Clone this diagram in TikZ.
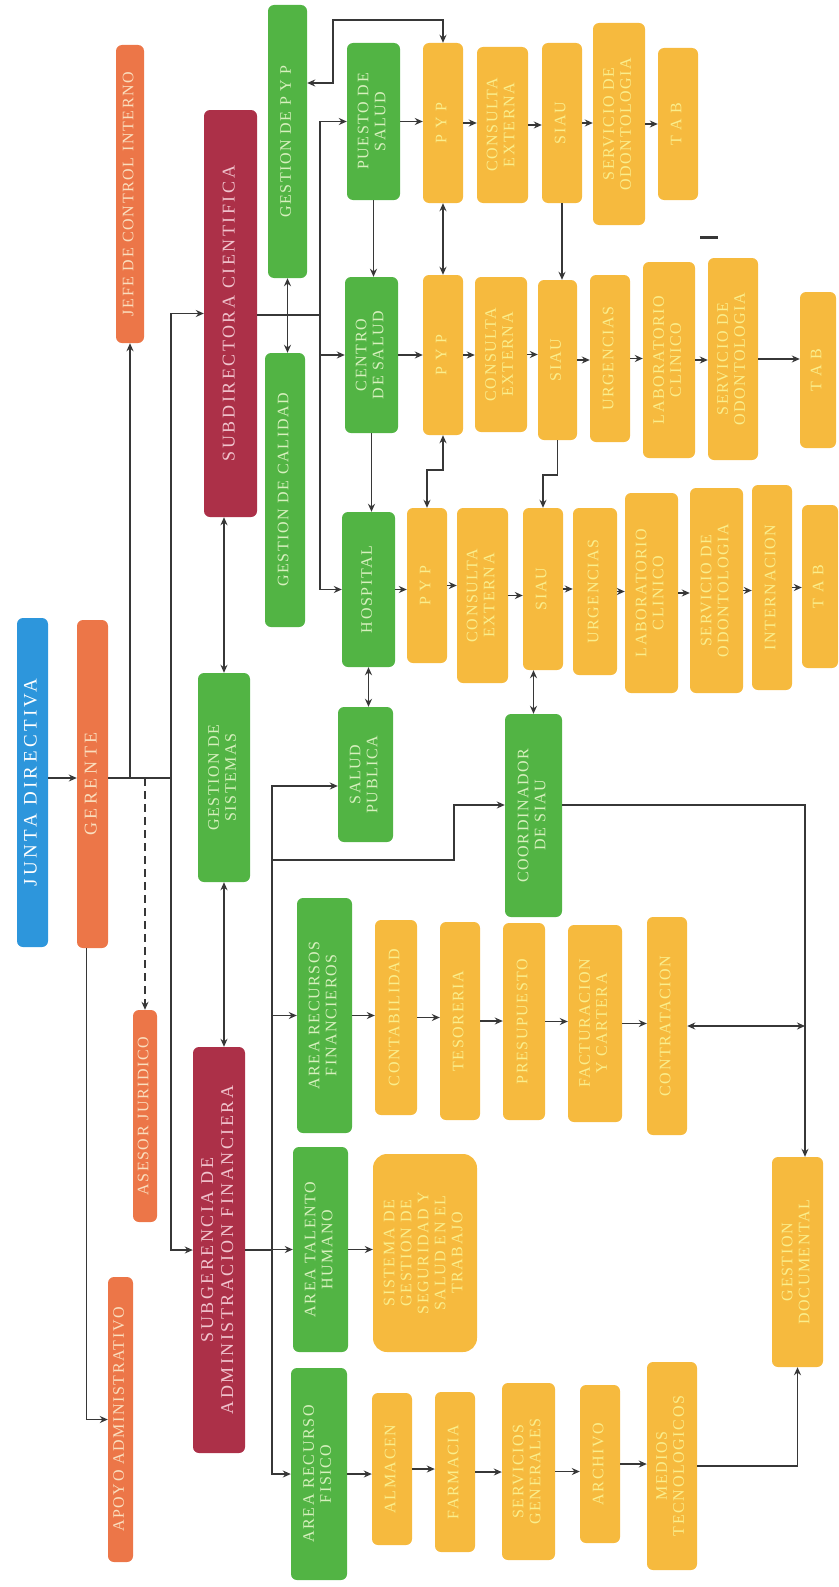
\documentclass[tikz,border=0pt]{standalone}
\usepackage{fontspec}
\setmainfont{Liberation Serif}[LetterSpace=10]
\usepackage{graphicx}
\usetikzlibrary{arrows.meta}

\definecolor{bluefill}{RGB}{45,150,220}
\definecolor{orangefill}{RGB}{236,118,72}
\definecolor{orangetext}{RGB}{250,222,190}
\definecolor{redfill}{RGB}{172,48,72}
\definecolor{redtext}{RGB}{240,195,205}
\definecolor{greenfill}{RGB}{82,180,68}
\definecolor{greentext}{RGB}{215,240,190}
\definecolor{goldfill}{RGB}{246,186,62}
\definecolor{goldtext}{RGB}{250,238,140}
\definecolor{linegray}{RGB}{55,55,55}

\newcommand{\vtxt}[1]{\rotatebox{90}{\begin{tabular}{@{}c@{}}#1\end{tabular}}}

\begin{document}
\begin{tikzpicture}[x=1pt, y=-1pt, >={Stealth[length=8pt,width=7pt]},
  every node/.style={rounded corners=6pt, inner sep=0pt, font=\fontsize{16}{17}\selectfont},
  wh/.style 2 args={minimum width=#1pt, minimum height=#2pt},
  bluebox/.style={fill=bluefill, text=white, font=\fontsize{19}{21}\selectfont\addfontfeature{LetterSpace=18}},
  orangebox/.style={fill=orangefill, text=orangetext},
  redbox/.style={fill=redfill, text=redtext, font=\fontsize{18}{20}\selectfont\addfontfeature{LetterSpace=14}},
  greenbox/.style={fill=greenfill, text=greentext},
  goldbox/.style={fill=goldfill, text=goldtext},
  conn/.style={draw=linegray, line width=1.5pt}]
\useasboundingbox (0,0) rectangle (838,1587);

% direccion
\node[bluebox, wh={31}{329}] (junta) at (32.5,782.5) {\vtxt{JUNTA DIRECTIVA}};
\node[orangebox, wh={31}{328}, font=\fontsize{18}{20}\selectfont\addfontfeature{LetterSpace=20}] (gerente) at (92.5,784) {\vtxt{GERENTE}};
\node[orangebox, wh={28}{298}] (jefe) at (130,194) {\vtxt{JEFE DE CONTROL INTERNO}};
\node[orangebox, wh={24}{212}] (asesor) at (145,1116) {\vtxt{ASESOR JURIDICO}};
\node[orangebox, wh={25}{285}] (apoyo) at (120.5,1419.5) {\vtxt{APOYO ADMINISTRATIVO}};
\node[redbox, wh={53}{407}] (subdir) at (230.5,313.5) {\vtxt{SUBDIRECTORA CIENTIFICA}};
\node[redbox, wh={52}{406}] (subger) at (219,1250) {\vtxt{SUBGERENCIA DE\\ADMINISTRACION FINANCIERA}};

\node[greenbox, wh={52}{209}] (gsist) at (224,777.5) {\vtxt{GESTION DE\\SISTEMAS}};
\node[greenbox, wh={39}{273}] (gpyp) at (287.5,141.5) {\vtxt{GESTION DE P Y P}};
\node[greenbox, wh={40}{274}] (gcal) at (285,490) {\vtxt{GESTION DE CALIDAD}};
\node[greenbox, wh={53}{157}] (puesto) at (373.5,121.5) {\vtxt{PUESTO DE\\SALUD}};
\node[greenbox, wh={53}{156}] (centro) at (371.5,355) {\vtxt{CENTRO\\DE SALUD}};
\node[greenbox, wh={53}{155}] (hospital) at (368.5,589.5) {\vtxt{HOSPITAL}};
\node[greenbox, wh={55}{135}] (salud) at (365.5,774.5) {\vtxt{SALUD\\PUBLICA}};
\node[greenbox, wh={57}{203}] (coord) at (533.5,815.5) {\vtxt{COORDINADOR\\DE SIAU}};
\node[greenbox, wh={55}{235}] (arf) at (324.5,1015.5) {\vtxt{AREA RECURSOS\\FINANCIEROS}};
\node[greenbox, wh={55}{205}] (ath) at (320.5,1249.5) {\vtxt{AREA TALENTO\\HUMANO}};
\node[greenbox, wh={56}{212}] (arfis) at (319,1474) {\vtxt{AREA RECURSO\\FISICO}};

% puesto de salud
\node[goldbox, wh={40}{160}] (pypA) at (443,123) {\vtxt{P Y P}};
\node[goldbox, wh={51}{156}] (consA) at (502.5,125) {\vtxt{CONSULTA\\EXTERNA}};
\node[goldbox, wh={40}{160}] (siauA) at (562,123) {\vtxt{SIAU}};
\node[goldbox, wh={52}{202}] (odoA) at (619,124) {\vtxt{SERVICIO DE\\ODONTOLOGIA}};
\node[goldbox, wh={40}{152}] (tabA) at (678,124) {\vtxt{T A B}};

% centro de salud
\node[goldbox, wh={40}{160}] (pypB) at (443,355) {\vtxt{P Y P}};
\node[goldbox, wh={52}{155}] (consB) at (501,354.5) {\vtxt{CONSULTA\\EXTERNA}};
\node[goldbox, wh={39}{160}] (siauB) at (557.5,360) {\vtxt{SIAU}};
\node[goldbox, wh={40}{167}] (urgB) at (610,358.5) {\vtxt{URGENCIAS}};
\node[goldbox, wh={52}{196}] (labB) at (669,360) {\vtxt{LABORATORIO\\CLINICO}};
\node[goldbox, wh={50}{202}] (odoB) at (733,359) {\vtxt{SERVICIO DE\\ODONTOLOGIA}};
\node[goldbox, wh={36}{156}] (tabB) at (818,370) {\vtxt{T A B}};

% hospital
\node[goldbox, wh={40}{155}] (pypC) at (427,585.5) {\vtxt{P Y P}};
\node[goldbox, wh={51}{175}] (consC) at (482.5,595.5) {\vtxt{CONSULTA\\EXTERNA}};
\node[goldbox, wh={40}{162}] (siauC) at (543,589) {\vtxt{SIAU}};
\node[goldbox, wh={44}{167}] (urgC) at (595,591.5) {\vtxt{URGENCIAS}};
\node[goldbox, wh={53}{200}] (labC) at (651.5,593) {\vtxt{LABORATORIO\\CLINICO}};
\node[goldbox, wh={53}{205}] (odoC) at (716.5,590.5) {\vtxt{SERVICIO DE\\ODONTOLOGIA}};
\node[goldbox, wh={40}{205}] (intC) at (772,587.5) {\vtxt{INTERNACION}};
\node[goldbox, wh={36}{163}] (tabC) at (820,586.5) {\vtxt{T A B}};

% administracion
\node[goldbox, wh={42}{195}] (conta) at (396,1017.5) {\vtxt{CONTABILIDAD}};
\node[goldbox, wh={40}{198}] (teso) at (460,1021) {\vtxt{TESORERIA}};
\node[goldbox, wh={42}{197}] (presu) at (524,1021.5) {\vtxt{PRESUPUESTO}};
\node[goldbox, wh={54}{197}] (factu) at (595,1023.5) {\vtxt{FACTURACION\\Y CARTERA}};
\node[goldbox, wh={40}{218}] (contra) at (667,1026) {\vtxt{CONTRATACION}};
\node[goldbox, wh={51}{210}] (gdoc) at (797.5,1262) {\vtxt{GESTION\\DOCUMENTAL}};
\node[goldbox, wh={104}{198}, rounded corners=14pt] (sgsst) at (425,1253) {\vtxt{SISTEMA DE\\GESTION DE\\SEGURIDAD Y\\SALUD EN EL\\TRABAJO}};
\node[goldbox, wh={40}{152}] (almacen) at (392,1469) {\vtxt{ALMACEN}};
\node[goldbox, wh={40}{160}] (farmacia) at (455,1472) {\vtxt{FARMACIA}};
\node[goldbox, wh={53}{177}] (servgen) at (528.5,1471.5) {\vtxt{SERVICIOS\\GENERALES}};
\node[goldbox, wh={40}{158}] (archivo) at (600,1464) {\vtxt{ARCHIVO}};
\node[goldbox, wh={50}{208}] (medios) at (672,1466) {\vtxt{MEDIOS\\TECNOLOGICOS}};

\coordinate (gb) at (171,778);
\coordinate (sb) at (320,315);
\coordinate (pa) at (333,20);
\coordinate (pb) at (333,83);
\coordinate (fb) at (272,1250);
\coordinate (ft) at (272,786);
\coordinate (c1) at (454,860);
\coordinate (c2) at (454,805);
\coordinate (cd) at (805,805);

\draw[conn, ->] (junta.east |- gb) -- (gerente.west |- gb);
\draw[conn] (gerente.east |- gb) -- (gb);
\draw[conn, ->] (gerente.east |- gb) -| (jefe.south);
\draw[conn, ->] (gb) |- (subdir.west);
\draw[conn, ->] (gb) |- (subger.west);
\draw[conn, ->, dash pattern=on 8pt off 5pt] (asesor.north |- gb) -- (asesor.north);
\draw[conn, ->] ([xshift=-6pt]gerente.south) |- (apoyo.west);

\draw[conn, <->] (gsist.north) -- (gsist.north |- subdir.south);
\draw[conn, <->] (gsist.south) -- (gsist.south |- subger.north);
\draw[conn, <->] (gpyp.south) -- (gpyp.south |- gcal.north);
\draw[conn, <->] (pypA.north) |- (pa) -- (pb) -- (pb -| gpyp.east);

\draw[conn] (subdir.east |- sb) -- (sb);
\draw[conn, ->] (sb) |- (puesto.west);
\draw[conn, ->] (sb) |- (centro.west);
\draw[conn, ->] (sb) |- (hospital.west);

\draw[conn, ->] (puesto.south) -- (puesto.south |- centro.north);
\draw[conn, ->] (centro.south) -- (centro.south |- hospital.north);
\draw[conn, <->] (hospital.south) -- (hospital.south |- salud.north);

\foreach \a/\b in {puesto/pypA, pypA/consA, consA/siauA, siauA/odoA, odoA/tabA,
  centro/pypB, pypB/consB, consB/siauB, siauB/urgB, urgB/labB, labB/odoB, odoB/tabB,
  hospital/pypC, pypC/consC, consC/siauC, siauC/urgC, urgC/labC, labC/odoC, odoC/intC, intC/tabC,
  arf/conta, conta/teso, teso/presu, presu/factu, factu/contra, ath/sgsst,
  arfis/almacen, almacen/farmacia, farmacia/servgen, servgen/archivo, archivo/medios}
  \draw[conn, ->] (\a.east) -- (\a.east -| \b.west);

\draw[conn, <->] (pypA.south) -- (pypA.south |- pypB.north);
\draw[conn, ->] (siauA.south) -- (siauA.south |- siauB.north);
\draw[conn, <->] (pypB.south) -- ++(0,35) -| (pypC.north);
\draw[conn, ->] (siauB.south) -- ++(0,35) -| (siauC.north);
\draw[conn, <->] (coord.north) -- (coord.north |- siauC.south);

\draw[conn] (subger.east |- fb) -- (fb);
\draw[conn, ->] (fb) -- (ft) -- (ft -| salud.west);
\draw[conn, ->] (fb) |- (arf.west);
\draw[conn, ->] (fb) |- (ath.west);
\draw[conn, ->] (fb) |- (arfis.west);
\draw[conn, ->] (ft |- c1) -- (c1) -- (c2) -- (c2 -| coord.west);

\draw[conn, ->] (coord.east |- cd) -- (cd) -- (cd |- gdoc.north);
\draw[conn, <->] (contra.east) -- (contra.east -| cd);
\draw[conn, ->] (medios.east) -| (gdoc.south);

\draw[linegray, line width=3pt] (700,237) -- (718,237);
\end{tikzpicture}
\end{document}
